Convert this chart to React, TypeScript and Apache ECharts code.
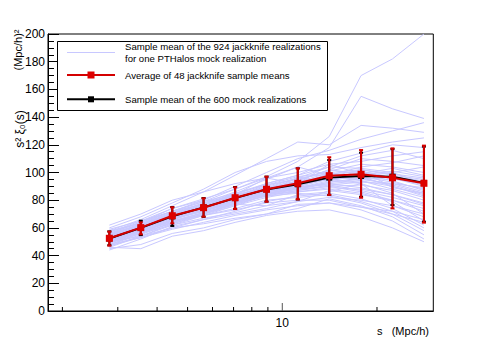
import React, { useEffect, useRef } from "react";
import * as echarts from "echarts";

// separation bins (Mpc/h)
const sValues = [2.82, 3.55, 4.47, 5.62, 7.08, 8.91, 11.2, 14.1, 17.8, 22.4, 28.2];

// Average of 48 jackknife sample means (red)
const redMean = [52.5, 60.2, 68.8, 74.6, 81.8, 87.9, 92.2, 97.7, 98.7, 96.2, 92.2];
const redLow = [47.2, 55.4, 63.3, 68.1, 73.6, 78.9, 80.6, 83.8, 81.8, 74.1, 63.8];
const redHigh = [57.3, 64.0, 74.9, 81.4, 89.3, 97.0, 103.0, 111.0, 116.2, 117.4, 119.4];

// Sample mean of the 600 mock realizations (black)
const blackMean = [52.3, 60.0, 68.3, 74.8, 81.5, 87.8, 91.5, 96.3, 97.5, 97.0, 92.5];
const blackLow = [47.5, 54.8, 61.4, 68.0, 73.8, 79.0, 80.5, 83.8, 82.5, 76.5, 64.5];
const blackHigh = [57.5, 65.2, 75.0, 81.6, 89.5, 97.0, 103.0, 109.0, 114.3, 117.0, 118.7];

// Sample means of the jackknife realizations, one line per mock (light blue)
const jackknifeLines = [
  [55, 63, 72, 79, 88, 97, 108, 126, 170, 182, 200],
  [53, 62, 70, 78, 86, 95, 104, 118, 155, 146, 139],
  [58, 66, 76, 86, 98, 110, 122, 120, 134, 132, 129],
  [56, 64, 74, 80, 90, 100, 110, 116, 124, 130, 136],
  [60, 68, 78, 88, 100, 108, 112, 113, 118, 122, 125],
  [54, 61, 69, 76, 84, 92, 98, 108, 114, 120, 118],
  [50, 59, 67, 74, 82, 89, 96, 104, 112, 116, 110],
  [57, 65, 74, 81, 88, 96, 100, 106, 108, 112, 115],
  [52, 60, 70, 77, 85, 91, 95, 101, 106, 104, 100],
  [49, 58, 66, 72, 80, 87, 94, 102, 110, 108, 105],
  [62, 70, 80, 86, 92, 96, 104, 98, 104, 107, 112],
  [55, 62, 71, 76, 83, 91, 97, 100, 102, 98, 95],
  [51, 57, 65, 71, 78, 85, 89, 94, 98, 101, 97],
  [48, 55, 64, 70, 77, 84, 90, 96, 100, 96, 90],
  [53, 61, 68, 74, 82, 88, 93, 97, 95, 92, 86],
  [50, 58, 69, 75, 81, 86, 90, 95, 97, 93, 88],
  [46, 54, 62, 69, 76, 84, 88, 92, 94, 90, 84],
  [54, 59, 67, 73, 80, 87, 91, 99, 101, 96, 91],
  [57, 64, 72, 77, 84, 96, 92, 106, 99, 103, 98],
  [52, 60, 67, 72, 79, 85, 88, 93, 96, 95, 93],
  [49, 56, 66, 73, 81, 88, 92, 99, 97, 90, 83],
  [55, 63, 71, 78, 84, 89, 94, 102, 99, 94, 87],
  [51, 59, 68, 75, 81, 86, 91, 97, 102, 99, 96],
  [47, 54, 63, 70, 78, 86, 93, 100, 96, 91, 85],
  [53, 62, 70, 76, 83, 90, 96, 99, 94, 88, 82],
  [59, 65, 72, 80, 78, 87, 96, 94, 102, 89, 85],
  [50, 57, 65, 71, 77, 83, 87, 91, 93, 92, 89],
  [54, 61, 69, 75, 82, 88, 92, 95, 97, 100, 104],
  [52, 58, 66, 73, 79, 84, 87, 90, 91, 87, 80],
  [48, 56, 64, 70, 76, 82, 86, 89, 88, 84, 78],
  [55, 60, 67, 72, 78, 85, 89, 93, 95, 97, 94],
  [51, 60, 69, 74, 80, 86, 89, 92, 89, 84, 77],
  [44, 52, 61, 66, 70, 74, 79, 87, 84, 80, 74],
  [56, 62, 69, 74, 80, 87, 90, 91, 87, 82, 76],
  [50, 59, 68, 76, 83, 89, 92, 95, 92, 85, 70],
  [53, 58, 64, 71, 77, 76, 84, 86, 92, 76, 68],
  [49, 57, 66, 73, 80, 85, 88, 90, 86, 80, 72],
  [58, 63, 70, 74, 79, 84, 86, 88, 85, 79, 65],
  [47, 53, 60, 66, 72, 79, 83, 85, 81, 74, 62],
  [52, 57, 63, 69, 74, 80, 82, 84, 79, 72, 60],
  [55, 61, 68, 73, 78, 83, 85, 83, 78, 70, 58],
  [45, 48, 56, 60, 66, 70, 74, 81, 76, 68, 55],
  [50, 54, 60, 63, 67, 70, 77, 78, 73, 65, 52],
  [46, 45, 54, 58, 64, 69, 72, 73, 68, 60, 50],
  [54, 60, 65, 69, 73, 78, 80, 80, 75, 70, 64],
  [51, 56, 62, 67, 71, 76, 79, 82, 80, 76, 70],
  [48, 53, 59, 64, 69, 73, 76, 78, 75, 72, 66],
  [56, 64, 72, 79, 85, 92, 98, 104, 103, 100, 92],
];

// x axis ticks (log scale)
const xMinorTicks = [2, 3, 4, 5, 6, 7, 8, 9, 20];
const xMajorTicks = [10];
const xTickLabels = ["10"];

const legendTexts = [
  "Sample mean of the 924 jackknife realizations",
  "for one PTHalos mock realization",
  "Average of 48 jackknife sample means",
  "Sample mean of the 600 mock realizations",
];

const FONT = "'Liberation Sans', Arial, Helvetica, sans-serif";
const BLUE = "#c8c8ff";
const RED = "#d40000";
const BLACK = "#000000";

function errorSeries(low: number[], high: number[], color: string, z: number) {
  return {
    type: "custom",
    z,
    silent: true,
    clip: false,
    data: sValues.map((s, i) => [s, low[i], high[i]]),
    renderItem: (params: any, api: any) => {
      const pl = api.coord([api.value(0), api.value(1)]);
      const ph = api.coord([api.value(0), api.value(2)]);
      const x = pl[0];
      const style = { stroke: color, lineWidth: 2 };
      return {
        type: "group",
        children: [
          { type: "line", shape: { x1: x, y1: pl[1], x2: x, y2: ph[1] }, style },
          { type: "line", shape: { x1: x - 2, y1: pl[1], x2: x + 2, y2: pl[1] }, style },
          { type: "line", shape: { x1: x - 2, y1: ph[1], x2: x + 2, y2: ph[1] }, style },
        ],
      };
    },
  };
}

export default function App() {
  const ref = useRef<HTMLDivElement>(null);
  useEffect(() => {
    if (!ref.current) return;
    const chart = echarts.init(ref.current, undefined, { renderer: "svg" });

    const blueSeries = jackknifeLines.map((line) => ({
      type: "line",
      name: "jackknife",
      data: sValues.map((s, i) => [s, line[i]]),
      showSymbol: false,
      symbol: "none",
      silent: true,
      z: 1,
      lineStyle: { color: BLUE, width: 1 },
    }));

    const tickData = [
      ...xMinorTicks.map((v) => [v, 0, 0]),
      ...xMajorTicks.map((v) => [v, 0, 1]),
    ];

    const option: any = {
      animation: false,
      backgroundColor: "#ffffff",
      grid: {
        left: 48,
        top: 34,
        right: 48.7,
        bottom: 35,
        show: true,
        borderColor: "#000",
        borderWidth: 1,
        backgroundColor: "transparent",
      },
      xAxis: {
        type: "log",
        logBase: 10,
        min: 1.8,
        max: 30.2,
        axisLine: { show: true, onZero: false, lineStyle: { color: "#000", width: 1 } },
        axisTick: { show: false },
        axisLabel: { show: false },
        splitLine: { show: false },
        minorTick: { show: false },
      },
      yAxis: {
        type: "value",
        min: 0,
        max: 200,
        interval: 20,
        axisLine: { show: true, lineStyle: { color: "#000", width: 1 } },
        axisTick: { show: true, inside: true, length: 11, lineStyle: { color: "#000", width: 1 } },
        minorTick: { show: true, splitNumber: 4, length: 6, lineStyle: { color: "#000", width: 1 } },
        axisLabel: { color: "#000", fontSize: 12, fontFamily: FONT, margin: 3 },
        splitLine: { show: false },
      },
      series: [
        ...blueSeries,
        errorSeries(blackLow, blackHigh, BLACK, 3),
        {
          type: "line",
          name: "mocks",
          data: sValues.map((s, i) => [s, blackMean[i]]),
          z: 4,
          silent: true,
          symbol: "rect",
          symbolSize: 6,
          showAllSymbol: true,
          lineStyle: { color: BLACK, width: 2 },
          itemStyle: { color: BLACK },
        },
        errorSeries(redLow, redHigh, RED, 5),
        {
          type: "line",
          name: "average",
          data: sValues.map((s, i) => [s, redMean[i]]),
          z: 6,
          silent: true,
          symbol: "rect",
          symbolSize: 7,
          showAllSymbol: true,
          lineStyle: { color: RED, width: 2 },
          itemStyle: { color: "#dd0000" },
        },
        {
          type: "custom",
          z: 7,
          silent: true,
          clip: false,
          data: tickData,
          renderItem: (params: any, api: any) => {
            const v = api.value(0);
            const major = api.value(2) === 1;
            const p = api.coord([v, 0.0001]);
            const x = p[0];
            const y = 311;
            const children: any[] = [
              {
                type: "line",
                shape: { x1: x, y1: y, x2: x, y2: y - (major ? 8 : 4) },
                style: { stroke: major ? "#555" : "#000", lineWidth: 1 },
              },
            ];
            if (major) {
              const idx = xMajorTicks.indexOf(v);
              children.push({
                type: "text",
                style: {
                  text: xTickLabels[idx] ?? String(v),
                  x,
                  y: 323,
                  fill: "#000",
                  fontSize: 12,
                  fontFamily: FONT,
                  align: "center",
                  verticalAlign: "middle",
                },
              });
            }
            return { type: "group", children };
          },
        },
      ],
      graphic: [
        {
          type: "text",
          x: 403,
          y: 331,
          style: {
            text: "s   (Mpc/h)",
            fill: "#000",
            fontSize: 11,
            fontFamily: FONT,
            align: "center",
            verticalAlign: "middle",
          },
        },
        {
          type: "text",
          x: 20,
          y: 129,
          rotation: Math.PI / 2,
          style: {
            text: "s² ξ₀(s)",
            fill: "#000",
            fontSize: 12,
            fontFamily: FONT,
            align: "center",
            verticalAlign: "middle",
          },
        },
        {
          type: "text",
          x: 18,
          y: 50,
          rotation: Math.PI / 2,
          style: {
            text: "(Mpc/h)²",
            fill: "#000",
            fontSize: 11,
            fontFamily: FONT,
            align: "center",
            verticalAlign: "middle",
          },
        },
        {
          type: "rect",
          z: 100,
          shape: { x: 57.5, y: 41.5, width: 270, height: 69 },
          style: { fill: "#fff", stroke: "#000", lineWidth: 1 },
        },
        {
          type: "line",
          z: 101,
          shape: { x1: 67, y1: 52.5, x2: 115, y2: 52.5 },
          style: { stroke: BLUE, lineWidth: 1 },
        },
        {
          type: "line",
          z: 101,
          shape: { x1: 67, y1: 75, x2: 115, y2: 75 },
          style: { stroke: RED, lineWidth: 2 },
        },
        {
          type: "rect",
          z: 102,
          shape: { x: 87.5, y: 71.5, width: 7, height: 7 },
          style: { fill: "#dd0000" },
        },
        {
          type: "line",
          z: 101,
          shape: { x1: 67, y1: 99.3, x2: 115, y2: 99.3 },
          style: { stroke: BLACK, lineWidth: 2 },
        },
        {
          type: "rect",
          z: 102,
          shape: { x: 88, y: 96.3, width: 6, height: 6 },
          style: { fill: BLACK },
        },
        ...[46.7, 58.7, 75, 99].map((y, i) => ({
          type: "text",
          z: 102,
          x: 125,
          y,
          style: {
            text: legendTexts[i],
            fill: "#000",
            fontSize: 9.6,
            fontFamily: FONT,
            align: "left",
            verticalAlign: "middle",
          },
        })),
      ],
    };

    chart.setOption(option);
    return () => chart.dispose();
  }, []);

  return (
    <div
      ref={ref}
      style={{ position: "absolute", left: 0, top: 0, width: 482, height: 346, background: "#fff" }}
    />
  );
}
